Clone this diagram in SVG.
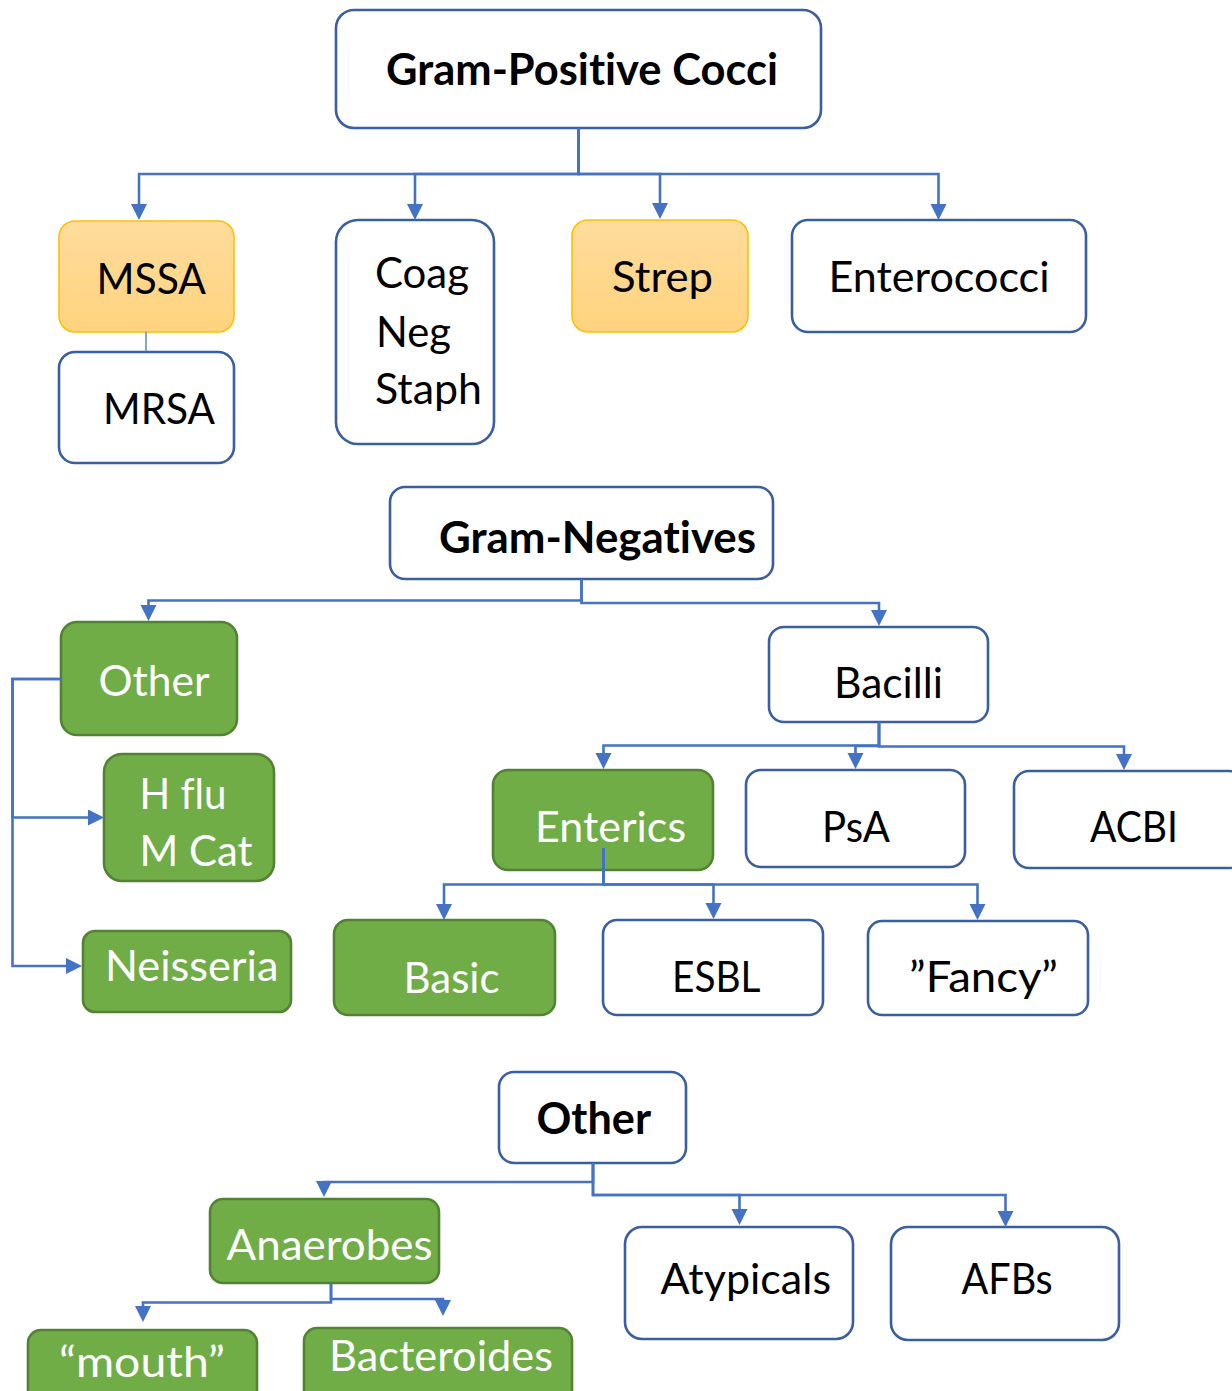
<svg xmlns="http://www.w3.org/2000/svg" width="1232" height="1391" viewBox="0 0 1232 1391">
  <style>
    .box { fill: #ffffff; stroke: #3a5e9f; stroke-width: 2.6; }
    .gold { fill: url(#goldFill); stroke: #ffc000; stroke-width: 1.6; }
    .green { fill: #70ad47; stroke: #548235; stroke-width: 2.6; }
    text { font-family: Lato, "Open Sans", "Liberation Sans", sans-serif; font-size: 43px; fill: #000000; font-variant-ligatures: none; }
    .head { font-weight: bold; }
    .light { fill: #ffffff; }
    .link { fill: none; stroke: #4472c4; stroke-width: 2.6; marker-end: url(#arrow); }
    .thin { fill: none; stroke: #4472c4; stroke-width: 1.3; }
  </style>
  <defs>
    <linearGradient id="goldFill" x1="0" y1="0" x2="0" y2="1">
      <stop offset="0" stop-color="#ffdc9d"/>
      <stop offset="1" stop-color="#ffd37e"/>
    </linearGradient>
    <marker id="arrow" markerUnits="userSpaceOnUse" markerWidth="18" markerHeight="18" refX="6" refY="8" orient="auto">
      <path d="M0,0 L16,8 L0,16 z" fill="#4472c4"/>
    </marker>
  </defs>

  <rect x="0" y="0" width="1232" height="1391" fill="#ffffff"/>

  <!-- Gram-positive branch -->
  <g id="gram-positive">
    <rect class="box" x="336" y="10" width="485" height="118" rx="18"/>
    <text class="head" x="386" y="85" textLength="392" lengthAdjust="spacingAndGlyphs">Gram-Positive Cocci</text>
  </g>
  <g id="mssa">
    <rect class="gold" x="59" y="221" width="175" height="111" rx="16"/>
    <text x="96.5" y="294" textLength="109.5" lengthAdjust="spacingAndGlyphs">MSSA</text>
  </g>
  <g id="mrsa">
    <rect class="box" x="59" y="352" width="175" height="111" rx="16"/>
    <text x="103" y="424" textLength="112" lengthAdjust="spacingAndGlyphs">MRSA</text>
  </g>
  <g id="coag-neg-staph">
    <rect class="box" x="336" y="220" width="158" height="224" rx="22"/>
    <text x="375" y="288" textLength="94" lengthAdjust="spacingAndGlyphs">Coag</text>
    <text x="376" y="347" textLength="75" lengthAdjust="spacingAndGlyphs">Neg</text>
    <text x="375" y="404" textLength="107" lengthAdjust="spacingAndGlyphs">Staph</text>
  </g>
  <g id="strep">
    <rect class="gold" x="572" y="220" width="176" height="112" rx="16"/>
    <text x="612" y="292" textLength="101" lengthAdjust="spacingAndGlyphs">Strep</text>
  </g>
  <g id="enterococci">
    <rect class="box" x="792" y="220" width="294" height="112" rx="16"/>
    <text x="828.5" y="292" textLength="221" lengthAdjust="spacingAndGlyphs">Enterococci</text>
  </g>

  <!-- Gram-negative branch -->
  <g id="gram-negatives">
    <rect class="box" x="390" y="487" width="383" height="92" rx="15"/>
    <text class="head" x="439" y="553" textLength="317" lengthAdjust="spacingAndGlyphs">Gram-Negatives</text>
  </g>
  <g id="gn-other">
    <rect class="green" x="61" y="622" width="176" height="113" rx="16"/>
    <text class="light" x="98.5" y="696" textLength="111" lengthAdjust="spacingAndGlyphs">Other</text>
  </g>
  <g id="hflu-mcat">
    <rect class="green" x="104" y="754" width="170" height="127" rx="18"/>
    <text class="light" x="139.5" y="809" textLength="87" lengthAdjust="spacingAndGlyphs">H flu</text>
    <text class="light" x="139.5" y="866" textLength="113" lengthAdjust="spacingAndGlyphs">M Cat</text>
  </g>
  <g id="neisseria">
    <rect class="green" x="83" y="931" width="208" height="81" rx="12"/>
    <text class="light" x="105" y="981" textLength="173.5" lengthAdjust="spacingAndGlyphs">Neisseria</text>
  </g>
  <g id="bacilli">
    <rect class="box" x="769" y="627" width="219" height="95" rx="15"/>
    <text x="834" y="698" textLength="109" lengthAdjust="spacingAndGlyphs">Bacilli</text>
  </g>
  <g id="enterics">
    <rect class="green" x="493" y="770" width="220" height="100" rx="15"/>
    <text class="light" x="535" y="842" textLength="151" lengthAdjust="spacingAndGlyphs">Enterics</text>
  </g>
  <g id="psa">
    <rect class="box" x="746" y="770" width="219" height="97" rx="15"/>
    <text x="822" y="842" textLength="68" lengthAdjust="spacingAndGlyphs">PsA</text>
  </g>
  <g id="acbi">
    <rect class="box" x="1014" y="771" width="230" height="97" rx="15"/>
    <text x="1090" y="842" textLength="88" lengthAdjust="spacingAndGlyphs">ACBI</text>
  </g>
  <g id="basic">
    <rect class="green" x="334" y="920" width="221" height="95" rx="14"/>
    <text class="light" x="403.5" y="993" textLength="96" lengthAdjust="spacingAndGlyphs">Basic</text>
  </g>
  <g id="esbl">
    <rect class="box" x="603" y="920" width="220" height="95" rx="14"/>
    <text x="672" y="992" textLength="88.5" lengthAdjust="spacingAndGlyphs">ESBL</text>
  </g>
  <g id="fancy">
    <rect class="box" x="868" y="921" width="220" height="94" rx="14"/>
    <text x="909" y="992" textLength="149" lengthAdjust="spacingAndGlyphs">”Fancy”</text>
  </g>

  <!-- Other organisms -->
  <g id="other">
    <rect class="box" x="499" y="1072" width="187" height="91" rx="15"/>
    <text class="head" x="536.5" y="1134" textLength="114.5" lengthAdjust="spacingAndGlyphs">Other</text>
  </g>
  <g id="anaerobes">
    <rect class="green" x="210" y="1199" width="229" height="84" rx="13"/>
    <text class="light" x="226.5" y="1260" textLength="206" lengthAdjust="spacingAndGlyphs">Anaerobes</text>
  </g>
  <g id="mouth">
    <rect class="green" x="28" y="1330" width="229" height="80" rx="13"/>
    <text class="light" x="59" y="1377" textLength="166" lengthAdjust="spacingAndGlyphs">“mouth”</text>
  </g>
  <g id="bacteroides">
    <rect class="green" x="304" y="1328" width="268" height="80" rx="13"/>
    <text class="light" x="329" y="1371" textLength="224" lengthAdjust="spacingAndGlyphs">Bacteroides</text>
  </g>
  <g id="atypicals">
    <rect class="box" x="625" y="1227" width="228" height="112" rx="17"/>
    <text x="660.5" y="1294" textLength="170.5" lengthAdjust="spacingAndGlyphs">Atypicals</text>
  </g>
  <g id="afbs">
    <rect class="box" x="891" y="1227" width="228" height="113" rx="17"/>
    <text x="961.5" y="1294" textLength="91" lengthAdjust="spacingAndGlyphs">AFBs</text>
  </g>

  <!-- Connectors: elbow lines ending in filled arrowheads -->
  <g id="connectors">
    <path class="link" d="M578.5,128 V174 H139 V210"/>
    <path class="link" d="M578.5,128 V174 H415 V210"/>
    <path class="link" d="M578.5,128 V174 H660 V209"/>
    <path class="link" d="M578.5,128 V174 H938.5 V210"/>
    <path class="thin" d="M146,332 V352"/>

    <path class="link" d="M581.5,579 V600.5 H148.5 V611"/>
    <path class="link" d="M581.5,579 V603 H879 V616"/>
    <path class="link" d="M61,679 H12.5 V817.5 H94"/>
    <path class="link" d="M61,679 H12.5 V966 H72"/>

    <path class="link" d="M879,722 V745.5 H603.5 V759"/>
    <path class="link" d="M879,722 V746 H855.5 V759"/>
    <path class="link" d="M879,722 V746.5 H1124 V760"/>

    <path class="link" d="M603.5,848 V884.5 H444 V910"/>
    <path class="link" d="M603.5,848 V884.5 H713.5 V909"/>
    <path class="link" d="M603.5,848 V884.5 H977.5 V910"/>

    <path class="link" d="M593,1163 V1182 H324 V1187"/>
    <path class="link" d="M593,1163 V1195 H739.5 V1215"/>
    <path class="link" d="M593,1163 V1195 H1005.5 V1217"/>

    <path class="link" d="M331,1283 V1302.5 H143 V1312"/>
    <path class="link" d="M331,1283 V1299 H443 V1306"/>
  </g>
</svg>
